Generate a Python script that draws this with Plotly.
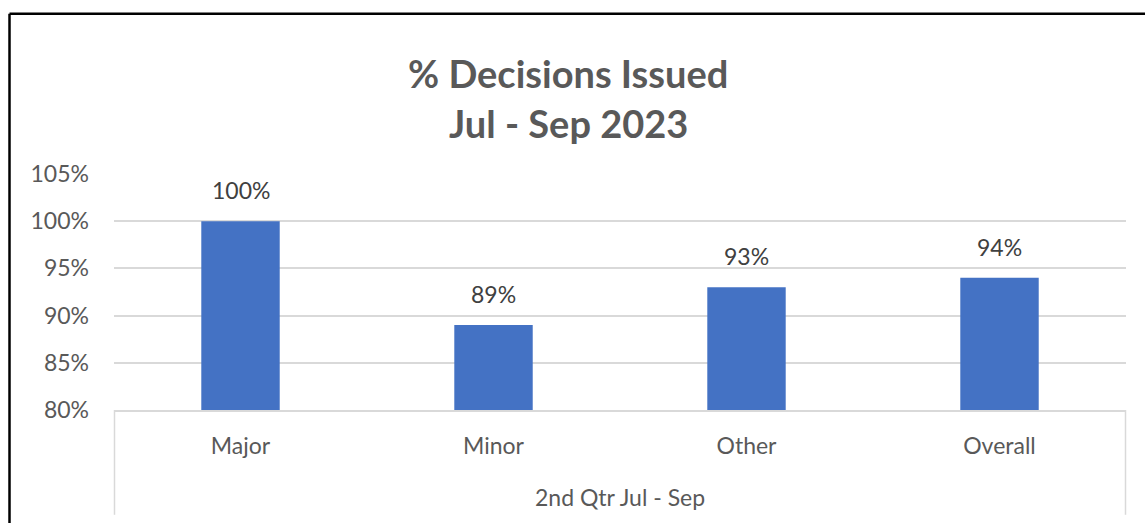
import plotly.graph_objects as go

categories = ["Major", "Minor", "Other", "Overall"]
values = [100, 89, 93, 94]
group_label = "2nd Qtr Jul - Sep"
y_ticks = [80, 85, 90, 95, 100, 105]
y_tick_labels = ["80%", "85%", "90%", "95%", "100%", "105%"]
title_lines = ["% Decisions Issued", "Jul - Sep 2023"]

W, H = 1145, 523
L, R, T, B = 114, 1126, 173.5, 410

def px_x(p):
    return (p - L) / (R - L)

def px_y(p):
    return (B - p) / (B - T)

FONT = "Lato, Open Sans, sans-serif"
GRID = "#d9d9d9"
FS = 23

fig = go.Figure()
fig.add_trace(go.Bar(
    x=categories, y=values, base=0,
    marker=dict(color="#4472C4", line=dict(width=0)),
    width=0.31, hoverinfo="skip",
))

annotations = []
for c, v in zip(categories, values):
    annotations.append(dict(
        x=c, y=v, xref="x", yref="y", text=f"{v}%", showarrow=False,
        yanchor="middle", yshift=31,
        font=dict(family=FONT, size=FS, color="#404040"),
    ))
# titles
for i, t in enumerate(title_lines):
    annotations.append(dict(
        x=px_x(568), y=px_y(72 + 50 * i), xref="paper", yref="paper",
        text=f"<b>{t}</b>", showarrow=False, xanchor="center", yanchor="middle",
        font=dict(family=FONT, size=38, color="#595959"),
    ))
annotations.append(dict(
    x=0.5, y=px_y(497), xref="paper", yref="paper", text=group_label,
    showarrow=False, xanchor="center", yanchor="middle",
    font=dict(family=FONT, size=FS, color="#595959"),
))

shapes = [
    # outer black border (top and left)
    dict(type="line", xref="paper", yref="paper", x0=px_x(9.5), x1=px_x(W + 5),
         y0=px_y(13), y1=px_y(13), line=dict(color="black", width=2.5)),
    dict(type="line", xref="paper", yref="paper", x0=px_x(9.5), x1=px_x(9.5),
         y0=px_y(13), y1=px_y(H + 5), line=dict(color="black", width=2.5)),
    # category box side lines
    dict(type="line", xref="paper", yref="paper", x0=px_x(114.5), x1=px_x(114.5),
         y0=px_y(410), y1=px_y(515), line=dict(color=GRID, width=1.5)),
    dict(type="line", xref="paper", yref="paper", x0=px_x(1125.5), x1=px_x(1125.5),
         y0=px_y(410), y1=px_y(515), line=dict(color=GRID, width=1.5)),
]

fig.update_layout(
    width=W, height=H,
    margin=dict(l=L, r=W - R, t=T, b=H - B, pad=0),
    paper_bgcolor="white", plot_bgcolor="white",
    showlegend=False,
    annotations=annotations, shapes=shapes,
    bargap=0.69,
    xaxis=dict(
        type="category", categoryorder="array", categoryarray=categories,
        showgrid=False, showline=True, linecolor=GRID, linewidth=1.5,
        ticks="", ticklabelstandoff=15,
        tickfont=dict(family=FONT, size=FS, color="#595959"),
        range=[-0.5, 3.5], fixedrange=True,
    ),
    yaxis=dict(
        range=[80, 105], tickvals=y_ticks, ticktext=y_tick_labels,
        showgrid=True, gridcolor=GRID, gridwidth=1.5, zeroline=False,
        showline=False, ticks="", ticklabelstandoff=24,
        tickfont=dict(family=FONT, size=FS, color="#595959"),
        fixedrange=True,
    ),
)

fig.write_html("out.html")
